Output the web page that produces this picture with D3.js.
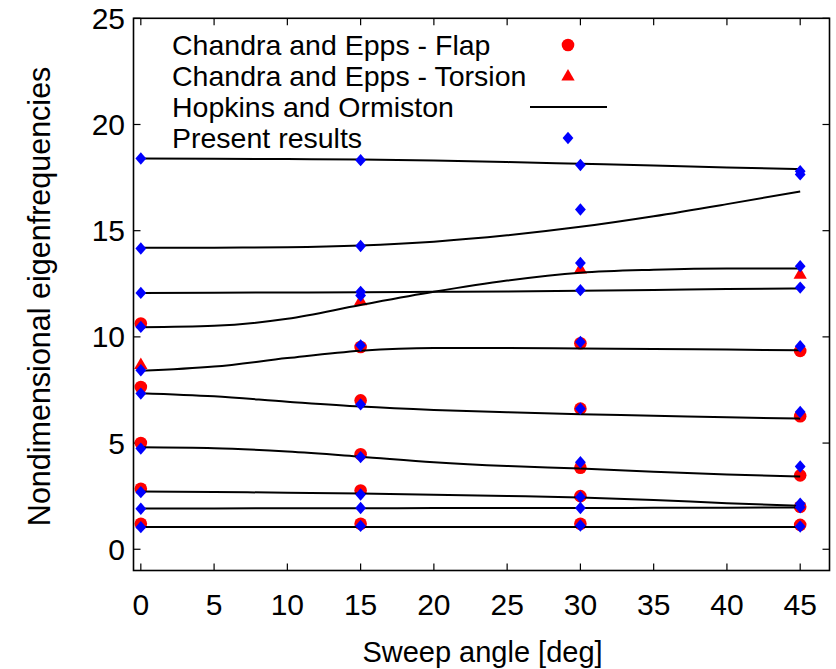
<!DOCTYPE html>
<html><head><meta charset="utf-8">
<script src="https://cdn.jsdelivr.net/npm/d3@7"></script>
<style>body{margin:0;background:#fff}svg{display:block}text{font-family:"Liberation Sans",Arial,sans-serif;fill:#000}</style>
</head><body>
<script>
// ---- data ----
const sweepAngles = [0, 15, 30, 45];
const presentAt0  = [18.4, 14.16, 12.07, 10.47, 8.43, 7.33, 4.74, 2.69, 1.91, 1.04];
const presentAt15 = [18.32, 14.28, 12.12, 11.95, 9.6, 6.82, 4.34, 2.58, 1.94, 1.1];
const presentAt30 = [18.09, 16.0, 13.48, 12.2, 9.76, 6.62, 4.1, 2.46, 1.94, 1.12];
const presentAt45 = [17.8, 17.65, 13.33, 12.32, 9.56, 6.46, 3.9, 2.14, 1.98, 1.07];
const flapAt0  = [10.63, 7.64, 5.0, 2.85, 1.2];
const flapAt15 = [9.52, 7.01, 4.47, 2.77, 1.2];
const flapAt30 = [9.7, 6.62, 3.84, 2.5, 1.2];
const flapAt45 = [9.34, 6.26, 3.48, 2.0, 1.15];
const torsionValues = [8.7, 11.7, 13.2, 12.95];
const hopkinsAngles = [0, 5, 10, 15, 20, 25, 30, 35, 40, 45];
const hopkinsMode1  = [18.4, 18.39, 18.37, 18.35, 18.3, 18.23, 18.15, 18.07, 17.98, 17.9];
const hopkinsMode2  = [14.2, 14.2, 14.22, 14.3, 14.48, 14.78, 15.18, 15.68, 16.25, 16.85];
const hopkinsMode3  = [10.45, 10.52, 10.85, 11.5, 12.12, 12.65, 13.02, 13.16, 13.22, 13.22];
const hopkinsMode4  = [12.07, 12.08, 12.09, 12.1, 12.12, 12.14, 12.17, 12.21, 12.25, 12.28];
const hopkinsMode5  = [8.4, 8.6, 9.0, 9.35, 9.48, 9.48, 9.45, 9.43, 9.4, 9.37];
const hopkinsMode6  = [7.35, 7.2, 6.95, 6.72, 6.56, 6.45, 6.36, 6.29, 6.21, 6.15];
const hopkinsMode7  = [4.8, 4.76, 4.6, 4.36, 4.1, 3.92, 3.8, 3.65, 3.52, 3.43];
const hopkinsMode8  = [2.72, 2.7, 2.66, 2.62, 2.57, 2.51, 2.44, 2.32, 2.17, 2.05];
const hopkinsMode9  = [1.92, 1.92, 1.93, 1.93, 1.94, 1.94, 1.94, 1.95, 1.96, 1.97];
const hopkinsMode10 = [1.05, 1.05, 1.05, 1.05, 1.05, 1.05, 1.05, 1.05, 1.05, 1.05];
const xTicks = [0, 5, 10, 15, 20, 25, 30, 35, 40, 45];
const yTicks = [0, 5, 10, 15, 20, 25];
const legendLabels = ["Chandra and Epps - Flap", "Chandra and Epps - Torsion", "Hopkins and Ormiston", "Present results"];
const xLabel = "Sweep angle [deg]";
const yLabel = "Nondimensional eigenfrequencies";

// ---- layout ----
const W = 836, H = 669;
const L = 133.5, R = 829.5, T = 18.3, B = 570.5;
const x = d3.scaleLinear().domain([-0.5, 47]).range([L, R]);
const y = d3.scaleLinear().domain([-1, 25]).range([B, T]);

const svg = d3.select("body").append("svg").attr("width", W).attr("height", H);

// ticks (inward, mirrored)
const tk = 7;
const g = svg.append("g").attr("stroke", "#000").attr("stroke-width", 1.2);
xTicks.forEach(v => {
  g.append("line").attr("x1", x(v)).attr("x2", x(v)).attr("y1", B).attr("y2", B - tk);
  g.append("line").attr("x1", x(v)).attr("x2", x(v)).attr("y1", T).attr("y2", T + tk);
});
yTicks.forEach(v => {
  g.append("line").attr("y1", y(v)).attr("y2", y(v)).attr("x1", L).attr("x2", L + tk);
  g.append("line").attr("y1", y(v)).attr("y2", y(v)).attr("x1", R).attr("x2", R - tk);
});

// tick labels
svg.append("g").selectAll("text").data(xTicks).join("text")
  .attr("x", d => x(d)).attr("y", 615).attr("text-anchor", "middle")
  .attr("font-size", 30).text(d => d);
svg.append("g").selectAll("text").data(yTicks).join("text")
  .attr("x", 125).attr("y", d => y(d) + 10.5).attr("text-anchor", "end")
  .attr("font-size", 30).text(d => d);

svg.append("text").attr("x", (L + R) / 2 + 1).attr("y", 662).attr("text-anchor", "middle")
  .attr("font-size", 29).text(xLabel);
svg.append("text").attr("transform", `translate(50,${(T + B) / 2 + 2}) rotate(-90)`)
  .attr("text-anchor", "middle").attr("font-size", 30.5).text(yLabel);

// markers
const circleR = 6.3;
function tri(cx, cy, s) {
  return `M${cx},${cy - s}L${cx + s * 0.95},${cy + s * 0.65}L${cx - s * 0.95},${cy + s * 0.65}Z`;
}
function diamond(cx, cy, s) {
  return `M${cx},${cy - s}L${cx + s * 0.87},${cy}L${cx},${cy + s}L${cx - s * 0.87},${cy}Z`;
}

const flapSets = [flapAt0, flapAt15, flapAt30, flapAt45];
const presentSets = [presentAt0, presentAt15, presentAt30, presentAt45];
const hopkinsModes = [hopkinsMode1, hopkinsMode2, hopkinsMode3, hopkinsMode4, hopkinsMode5,
  hopkinsMode6, hopkinsMode7, hopkinsMode8, hopkinsMode9, hopkinsMode10];

const flapPts = [];
flapSets.forEach((arr, i) => arr.forEach(v => flapPts.push([sweepAngles[i], v])));
svg.append("g").selectAll("circle").data(flapPts).join("circle")
  .attr("cx", d => x(d[0])).attr("cy", d => y(d[1])).attr("r", circleR).attr("fill", "#ff0000");

svg.append("g").selectAll("path").data(torsionValues).join("path")
  .attr("d", (d, i) => tri(x(sweepAngles[i]), y(d), 7)).attr("fill", "#ff0000");

const line = d3.line().x((d, i) => x(hopkinsAngles[i])).y(d => y(d)).curve(d3.curveMonotoneX);
svg.append("g").selectAll("path").data(hopkinsModes).join("path")
  .attr("d", line).attr("fill", "none").attr("stroke", "#000").attr("stroke-width", 2);

const presentPts = [];
presentSets.forEach((arr, i) => arr.forEach(v => presentPts.push([sweepAngles[i], v])));
svg.append("g").selectAll("path").data(presentPts).join("path")
  .attr("d", d => diamond(x(d[0]), y(d[1]), 6.2)).attr("fill", "#0000ff");

// frame
svg.append("rect").attr("x", L).attr("y", T).attr("width", R - L).attr("height", B - T)
  .attr("fill", "none").attr("stroke", "#000").attr("stroke-width", 1.6);

// legend
const legY = [45, 76, 107, 138];
const lg = svg.append("g");
lg.selectAll("text").data(legendLabels).join("text")
  .attr("x", 172).attr("y", (d, i) => legY[i] + 10).attr("font-size", 28.5).text(d => d);
lg.append("circle").attr("cx", 568).attr("cy", legY[0]).attr("r", circleR).attr("fill", "#ff0000");
lg.append("path").attr("d", tri(568, legY[1], 7)).attr("fill", "#ff0000");
lg.append("line").attr("x1", 530).attr("x2", 607).attr("y1", legY[2]).attr("y2", legY[2])
  .attr("stroke", "#000").attr("stroke-width", 2);
lg.append("path").attr("d", diamond(568, legY[3], 6.2)).attr("fill", "#0000ff");
</script>
</body></html>
